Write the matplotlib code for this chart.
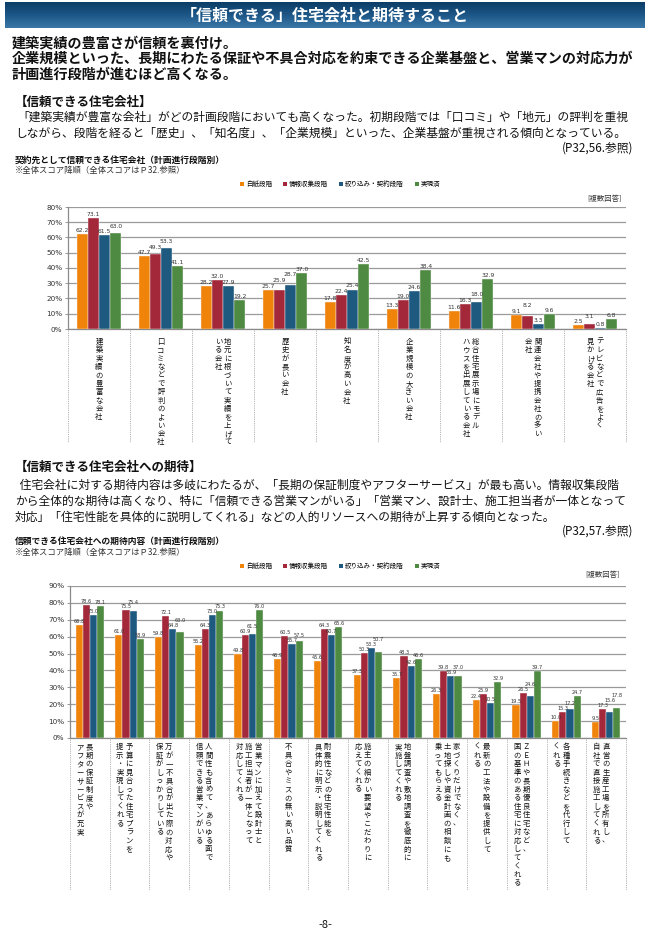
import numpy as np
import matplotlib
matplotlib.use('Agg')
import matplotlib.pyplot as plt
from matplotlib.patches import Patch
import matplotlib.transforms as mtransforms
from matplotlib.colors import LinearSegmentedColormap

plt.rcParams['font.family'] = ['Noto Sans CJK JP', 'DejaVu Sans']

# ---------------- data ----------------
stages = ['白紙段階', '情報収集段階', '絞り込み・契約段階', '実現済']
stage_colors = ['#F0830A', '#A3283A', '#1E5A80', '#4F8A43']

trust_labels = [
    ["建築実績の豊富な会社"],
    ["口コミなどで評判のよい会社"],
    ["地元に根づいて実績を上げて", "いる会社"],
    ["歴史が長い会社"],
    ["知名度が高い会社"],
    ["企業規模の大きい会社"],
    ["総合住宅展示場にモデル", "ハウスを出展している会社"],
    ["関連会社や提携会社の多い", "会社"],
    ["テレビなどで広告をよく", "見かける会社"],
]
trust_blank = [62.2, 47.7, 28.2, 25.7, 17.8, 13.3, 11.6, 9.1, 2.5]
trust_info = [73.1, 49.3, 32.0, 25.9, 22.4, 19.0, 16.3, 8.2, 3.1]
trust_narrow = [61.5, 53.3, 27.9, 28.7, 25.4, 24.6, 18.0, 3.3, 0.8]
trust_done = [63.0, 41.1, 19.2, 37.0, 42.5, 38.4, 32.9, 9.6, 6.8]
trust_yticks = [0, 10, 20, 30, 40, 50, 60, 70, 80]

expect_labels = [
    ["長期の保証制度や", "アフターサービスが充実"],
    ["予算に見合った住宅プランを", "提示・実現してくれる"],
    ["万が一不具合が出た際の対応や", "保証がしっかりしている"],
    ["人間性も含めて、あらゆる面で", "信頼できる営業マンがいる"],
    ["営業マンに加えて設計士と", "施工担当者が一体となって", "対応してくれる"],
    ["不具合やミスの無い高い品質"],
    ["耐震性などの住宅性能を", "具体的に明示・説明してくれる"],
    ["施主の細かい要望やこだわりに", "応えてくれる"],
    ["地盤調査や敷地調査を徹底的に", "実施してくれる"],
    ["家づくりだけでなく、", "土地探しや資金計画の相談にも", "乗ってもらえる"],
    ["最新の工法や設備を提供して", "くれる"],
    ["ＺＥＨや長期優良住宅など、", "国の基準のある住宅に対応してくれる"],
    ["各種手続きなどを代行して", "くれる"],
    ["直営の生産工場を所有し、", "自社で直接施工してくれる"],
]
expect_blank = [66.8, 61.0, 59.8, 55.2, 49.8, 46.9, 45.6, 37.3, 35.7, 26.3, 22.4, 19.5, 10.0, 9.5]
expect_info = [78.6, 75.5, 72.1, 64.3, 60.9, 60.5, 64.3, 50.3, 48.3, 39.8, 25.9, 26.5, 15.3, 17.3]
expect_narrow = [73.0, 75.4, 64.8, 73.0, 61.5, 55.7, 60.7, 53.3, 42.6, 36.9, 20.5, 24.6, 17.2, 15.6]
expect_done = [78.1, 58.9, 63.0, 75.3, 76.0, 57.5, 65.6, 50.7, 46.6, 37.0, 32.9, 39.7, 24.7, 17.8]
expect_yticks = [0, 10, 20, 30, 40, 50, 60, 70, 80, 90]

title = "「信頼できる」住宅会社と期待すること"
headline = ["建築実績の豊富さが信頼を裏付け。",
            "企業規模といった、長期にわたる保証や不具合対応を約束できる企業基盤と、営業マンの対応力が",
            "計画進行段階が進むほど高くなる。"]
sec1_head = "【信頼できる住宅会社】"
sec1_text = ["「建築実績が豊富な会社」がどの計画段階においても高くなった。初期段階では「口コミ」や「地元」の評判を重視",
             "しながら、段階を経ると「歴史」、「知名度」、「企業規模」といった、企業基盤が重視される傾向となっている。"]
sec1_ref = "(P32,56.参照)"
chart1_title = "契約先として信頼できる住宅会社（計画進行段階別）"
chart_note = "※全体スコア降順（全体スコアはＰ32.参照）"
multi = "[複数回答]"
sec2_head = "【信頼できる住宅会社への期待】"
sec2_text = [" 住宅会社に対する期待内容は多岐にわたるが、「長期の保証制度やアフターサービス」が最も高い。情報収集段階",
             "から全体的な期待は高くなり、特に「信頼できる営業マンがいる」「営業マン、設計士、施工担当者が一体となって",
             "対応」「住宅性能を具体的に説明してくれる」などの人的リソースへの期待が上昇する傾向となった。"]
sec2_ref = "(P32,57.参照)"
chart2_title = "信頼できる住宅会社への期待内容（計画進行段階別）"
page_no = "-8-"

# ---------------- figure ----------------
W, H = 651, 938
fig = plt.figure(figsize=(W / 100, H / 100), dpi=100)
fig.patch.set_facecolor('white')


def fx(x):
    return x / W


def fy(y):
    return 1 - y / H


def ftext(x, y, s, size, weight='normal', ha='left', va='center', color='#111111'):
    return fig.text(fx(x), fy(y), s, fontsize=size, fontweight=weight, ha=ha, va=va, color=color)


renderer = fig.canvas.get_renderer()


def fit_width(t, width_px):
    w = t.get_window_extent(renderer).width
    t.set_fontsize(t.get_fontsize() * width_px / w)
    return t.get_fontsize()


# header band with gradient
hax = fig.add_axes([fx(5), fy(28), fx(640), 26 / H])
cmap = LinearSegmentedColormap.from_list('hb', ['#0c3d66', '#1d5788', '#3a78a8'])
hax.imshow(np.linspace(0, 1, 50).reshape(-1, 1), aspect='auto', cmap=cmap, extent=[0, 1, 0, 1])
hax.set_axis_off()
ftext(325, 15, title, 11.5, weight='bold', ha='center', color='white')

# headline
t = ftext(12, 43, headline[1], 10, weight='bold')
hs = fit_width(t, 621)
t.set_position((fx(12), fy(59)))
ftext(12, 43, headline[0], hs, weight='bold')
ftext(12, 75, headline[2], hs, weight='bold')

# section 1 text
ftext(15, 102, sec1_head, 9, weight='bold')
t = ftext(17, 117, sec1_text[0], 9)
ps = fit_width(t, 612)
ftext(15, 133, sec1_text[1], ps)
ftext(633, 148, sec1_ref, ps, ha='right')
ftext(15, 160, chart1_title, 6.3, weight='bold')
ftext(15, 171, chart_note, 6.0, color='#333333')

# section 2 text
ftext(15, 467, sec2_head, 9, weight='bold')
t = ftext(17, 485, sec2_text[0], 9)
fit_width(t, 616)
t.set_fontsize(min(t.get_fontsize(), ps))
t2 = ftext(15, 501, sec2_text[1], ps)
fit_width(t2, 618)
t2.set_fontsize(min(t2.get_fontsize(), ps))
ftext(15, 517, sec2_text[2], min(t.get_fontsize(), t2.get_fontsize()))
ftext(633, 531, sec2_ref, ps, ha='right')
ftext(15, 541, chart2_title, 6.3, weight='bold')
ftext(15, 552, chart_note, 6.0, color='#333333')

ftext(325, 925, page_no, 8, ha='center')

handles = [Patch(facecolor=c, edgecolor='none') for c in stage_colors]


def draw_chart(rect, labels, series, yticks, label_top, sep_bottom, vfont, lab_font, lab_ls,
               col_sp, shift2, legend_y, multi_xy):
    ax = fig.add_axes(rect)
    n = len(labels)
    x = np.arange(n)
    w = 0.18
    ymax = yticks[-1]
    pxu = rect[3] * H / ymax           # pixels per data unit
    th = vfont * 1.39 * 0.95 / pxu     # label height in data units
    pad = 1.0 / pxu
    for i, (vals, c) in enumerate(zip(series, stage_colors)):
        ax.bar(x + (i - 1.5) * w, vals, width=w, color=c, edgecolor='#f4f4f4',
               linewidth=0.3, zorder=3)
    # value labels, nudged upward where neighbouring labels would collide
    for g in range(n):
        prev = None
        for i in range(len(series)):
            v = series[i][g]
            y = v + pad
            if prev is not None and abs(y - prev) < th:
                y = prev + th
            prev = y
            ax.text(g + (i - 1.5) * w, y, f"{v:.1f}", ha='center', va='bottom', fontsize=vfont,
                    color='#333333', zorder=4, family=['DejaVu Sans'], clip_on=False)
    ax.set_xlim(-0.5, n - 0.5)
    ax.set_ylim(0, ymax)
    ax.set_yticks(yticks)
    ax.set_yticklabels([f"{v}%" for v in yticks], fontsize=5.2, color='#333333',
                       family=['DejaVu Sans'])
    ax.yaxis.grid(True, color='#9a9a9a', linewidth=0.9, zorder=0)
    ax.set_axisbelow(True)
    ax.set_xticks([])
    ax.tick_params(axis='y', length=2, width=0.6, color='#888888', pad=2)
    for s in ['top', 'right']:
        ax.spines[s].set_visible(False)
    for s in ['left', 'bottom']:
        ax.spines[s].set_color('#8a8a8a')
        ax.spines[s].set_linewidth(0.9)

    blend = mtransforms.blended_transform_factory(ax.transData, fig.transFigure)
    bottom_f = rect[1]
    for b in np.arange(-0.5, n, 1.0):
        ax.plot([b, b], [bottom_f, fy(sep_bottom)], transform=blend, clip_on=False,
                color='#9a9a9a', linestyle=(0, (1, 1.2)), linewidth=0.6)

    for i, cols in enumerate(labels):
        k = len(cols)
        sh = shift2 if k == 2 else 0
        for j, col in enumerate(cols):
            dx = ((k - 1) / 2 - j) * col_sp + sh
            tr = blend + mtransforms.ScaledTranslation(dx / 100, 0, fig.dpi_scale_trans)
            ax.text(i, fy(label_top), "\n".join(col), transform=tr, ha='center', va='top',
                    multialignment='center', fontsize=lab_font, linespacing=lab_ls,
                    color='#111111')

    fig.legend(handles, stages, loc='center', bbox_to_anchor=(fx(340), fy(legend_y)), ncol=4,
               frameon=False, fontsize=4.7, handlelength=0.6, handleheight=0.6,
               handletextpad=0.3, columnspacing=1.7, borderpad=0)
    ftext(multi_xy[0], multi_xy[1], multi, 5.3, ha='right', color='#333333')
    return ax


draw_chart([fx(68), fy(329), fx(626 - 68), (329 - 207) / H], trust_labels,
           [trust_blank, trust_info, trust_narrow, trust_done], trust_yticks,
           label_top=338, sep_bottom=442, vfont=4.3, lab_font=5.3, lab_ls=1.06,
           col_sp=9.3, shift2=0, legend_y=184, multi_xy=(622, 199))

draw_chart([fx(70), fy(738), fx(626 - 70), (738 - 586) / H], expect_labels,
           [expect_blank, expect_info, expect_narrow, expect_done], expect_yticks,
           label_top=743, sep_bottom=890, vfont=3.6, lab_font=5.3, lab_ls=1.09,
           col_sp=9.3, shift2=-5, legend_y=566, multi_xy=(620, 575))

fig.savefig('out.png', dpi=100, facecolor='white')
